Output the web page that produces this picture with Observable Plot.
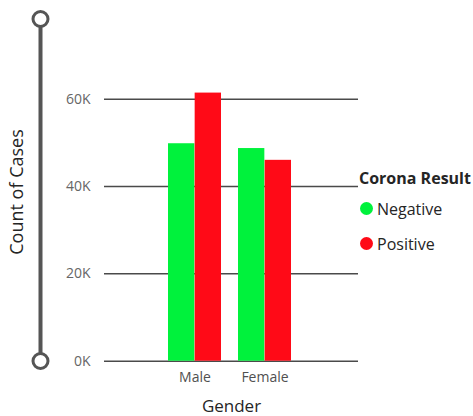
<!DOCTYPE html>
<html><head><meta charset="utf-8">
<script src="https://cdn.jsdelivr.net/npm/d3@7"></script>
<script src="https://cdn.jsdelivr.net/npm/@observablehq/plot@0.6"></script>
<style>
body{margin:0;background:#fff;font-family:"Open Sans","Noto Sans",sans-serif}
#wrap{position:relative;width:473px;height:416px;overflow:hidden}
#wrap svg [aria-label="x-axis label"]{fill:#252525;font-size:17px}
#wrap svg [aria-label="x-axis tick label"]{fill:#505050}
#ylabel{position:absolute;left:16px;top:192px;transform:translate(-50%,-50%) rotate(-90deg);white-space:nowrap;font-size:18px;color:#252525}
#legend{position:absolute;left:359px;top:167px;white-space:nowrap;color:#252525}
#legend .title{font-weight:bold;font-size:16px;margin-bottom:2px}
#legend .item{display:flex;align-items:center;font-size:16px;height:35px;margin-left:1px}
#legend .sw{width:13px;height:13px;border-radius:50%;margin-right:4px}
#slider{position:absolute;left:0;top:0}
</style></head><body><div id="wrap"></div>
<script>
const genders = ["Male", "Female"];
const results = ["Negative", "Positive"];
const negativeCounts = [49800, 48700];
const positiveCounts = [61400, 46000];
const yTicks = [0, 20000, 40000, 60000];
const colors = ["#00F23C", "#FF0A17"];

const data = genders.flatMap((g, i) => [
  {gender: g, result: results[0], count: negativeCounts[i]},
  {gender: g, result: results[1], count: positiveCounts[i]}
]);

const W = 473, H = 416, ML = 104, MR = 115;
const padIn = 0.246, padOut = 0.919;
const step = (W - ML - MR) / (genders.length - padIn + 2 * padOut);
const half = step * (1 - padIn) / 2;

const chart = Plot.plot({
  width: W, height: H,
  marginLeft: ML, marginRight: MR, marginTop: 98.7, marginBottom: 55.3,
  style: {fontFamily: "'Open Sans','Noto Sans',sans-serif", fontSize: "14px", color: "#666", background: "transparent"},
  x: {domain: genders, paddingInner: padIn, paddingOuter: padOut, align: 0.49,
      label: "Gender", labelAnchor: "center", labelOffset: 51, tickSize: 0, tickPadding: 11},
  y: {domain: [0, 60000], ticks: yTicks, tickFormat: d => d / 1000 + "K", tickSize: 0, tickPadding: 14,
      label: null},
  color: {domain: results, range: colors},
  marks: [
    Plot.ruleY(yTicks, {stroke: "#4a4a4a", strokeWidth: 1.5}),
    Plot.barY(data.filter(d => d.result === results[0]), {x: "gender", y: "count", fill: "result", insetRight: half}),
    Plot.barY(data.filter(d => d.result === results[1]), {x: "gender", y: "count", fill: "result", insetLeft: half})
  ]
});
const wrap = document.getElementById("wrap");
wrap.appendChild(chart);

// decorative slider on the left
const s = d3.select(wrap).append("svg").attr("id", "slider").attr("width", 60).attr("height", H);
s.append("line").attr("x1", 40.5).attr("x2", 40.5).attr("y1", 19).attr("y2", 361)
  .attr("stroke", "#555").attr("stroke-width", 4);
for (const cy of [19, 361]) {
  s.append("circle").attr("cx", 40.5).attr("cy", cy).attr("r", 7.5)
    .attr("fill", "#fff").attr("stroke", "#555").attr("stroke-width", 3);
}

// y-axis title
d3.select(wrap).append("div").attr("id", "ylabel").text("Count of Cases");

// legend
const lg = d3.select(wrap).append("div").attr("id", "legend");
lg.append("div").attr("class", "title").text("Corona Result");
results.forEach((r, i) => {
  const it = lg.append("div").attr("class", "item");
  it.append("span").attr("class", "sw").style("background", colors[i]);
  it.append("span").text(r);
});
</script></body></html>
